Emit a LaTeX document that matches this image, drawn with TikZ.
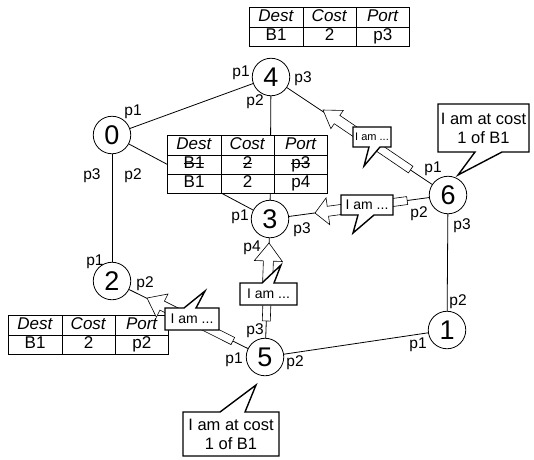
\documentclass[tikz,border=0pt]{standalone}
\usepackage{fontspec}
\setmainfont{Liberation Sans}
\usepackage{array}
\newsavebox\strkbox
\newcommand\strk[1]{\leavevmode\sbox\strkbox{#1}\rlap{\rule[0.3em]{\wd\strkbox}{0.6pt}}\usebox\strkbox}
\newcolumntype{C}{>{\centering\arraybackslash}p{41pt}}
\newcommand\hdrstrut{\rule[-5pt]{0pt}{19pt}}
\newcommand\rowstrut{\rule[-4.5pt]{0pt}{17.5pt}}
\newcommand\msgarrow[6]{%
  \begin{scope}[shift={#1}, rotate=#2]
    \draw[msgbody] (0,0) -- (#5,#6) -- (#5,5) -- (#3,5) -- (#3,4) -- (#4,4) -- (#4,-4) -- (#3,-4) -- (#3,-5) -- (#5,-5) -- (#5,-#6) -- cycle;
  \end{scope}}
\begin{document}
\begin{tikzpicture}[x=1pt,y=-1pt,
  nd/.style={circle, draw, line width=0.8pt, fill=white, minimum size=37.5pt, inner sep=0pt, font=\fontsize{27}{27}\selectfont},
  lnk/.style={line width=0.8pt},
  plab/.style={font=\fontsize{15.5}{15.5}\selectfont, inner sep=0pt},
  tbl/.style={fill=white, inner sep=0pt, anchor=north west, font=\fontsize{17}{18}\selectfont},
  msgbody/.style={draw, fill=white, line width=0.6pt, line join=miter},
  callbox/.style={draw, fill=white, line width=1.4pt, line join=miter},
  smalltxt/.style={font=\fontsize{14}{14}\selectfont, inner sep=0pt},
  bigtxt/.style={font=\fontsize{16.5}{19}\selectfont, align=center, inner sep=0pt}]
\useasboundingbox (0,0) rectangle (534,459);

% nodes
\node[nd] (n4) at (271,77) {4};
\node[nd] (n0) at (112,135) {0};
\node[nd] (n3) at (270,219) {3};
\node[nd] (n6) at (448,195) {6};
\node[nd] (n2) at (112,281) {2};
\node[nd] (n1) at (447,330) {1};
\node[nd] (n5) at (265,357) {5};

% links
\draw[lnk] (n0) -- (n4);
\draw[lnk] (n0) -- (n3);
\draw[lnk] (n4) -- (n3);
\draw[lnk] (n4) -- (n6);
\draw[lnk] (n6) -- (n3);
\draw[lnk] (n6) -- (n1);
\draw[lnk] (n1) -- (n5);
\draw[lnk] (n0) -- (n2);
\draw[lnk] (n2) -- (n5);
\draw[lnk] (n5) -- (n3);

% port labels
\node[plab] (l0a) at (133,112) {p1};
\node[plab] (l0b) at (92,176) {p3};
\node[plab] (l0c) at (133,176) {p2};
\node[plab] (l4a) at (241,73) {p1};
\node[plab] (l4b) at (303,79) {p3};
\node[plab] (l4c) at (255,102) {p2};
\node[plab] (l2a) at (95,262) {p1};
\node[plab] (l2b) at (145,284) {p2};
\node[plab] (l3a) at (240,217) {p1};
\node[plab] (l3b) at (302,230) {p3};
\node[plab] (l3c) at (252,248) {p4};
\node[plab] (l5a) at (255,331) {p3};
\node[plab] (l5b) at (234,360) {p1};
\node[plab] (l5c) at (295,363) {p2};
\node[plab] (l1a) at (458,302) {p2};
\node[plab] (l1b) at (418,345) {p1};
\node[plab] (l6a) at (433,169) {p1};
\node[plab] (l6b) at (419,214) {p2};
\node[plab] (l6c) at (462,226) {p3};

% tables
\node[tbl] (t4) at (249,7) {\begin{tabular}{|C|C|C|}\hline
\hdrstrut\textit{Dest}&\textit{Cost}&\textit{Port}\\\hline
\rowstrut B1&2&p3\\\hline\end{tabular}};
\draw[line width=1.2pt] (t4.south west) -- (t4.south east);

\node[tbl] (t3) at (167,135) {\begin{tabular}{|C|C|C|}\hline
\hdrstrut\textit{Dest}&\textit{Cost}&\textit{Port}\\\hline
\rowstrut \strk{B1}&\strk{2}&\strk{p3}\\\hline
\rowstrut B1&2&p4\\\hline\end{tabular}};
\draw[line width=1.2pt] (t3.south west) -- (t3.south east);

\node[tbl] (t2) at (8,315) {\begin{tabular}{|C|C|C|}\hline
\hdrstrut\textit{Dest}&\textit{Cost}&\textit{Port}\\\hline
\rowstrut B1&2&p2\\\hline\end{tabular}};
\draw[line width=1.2pt] (t2.south west) -- (t2.south east);

% message arrows
\msgarrow{(323,110)}{-34.2}{56}{106}{17}{11}
\msgarrow{(315,213)}{7.7}{52}{93}{13}{13.5}
\msgarrow{(269,243)}{-92}{51}{78}{18}{14}
\msgarrow{(147,298)}{-26.6}{50}{96}{17}{13}

% small callouts
\draw[callbox] (353,127) -- (391,127) -- (391,147) -- (380,147) -- (364,166) -- (369,147) -- (353,147) -- cycle;
\node[inner sep=0pt, font=\fontsize{11}{11}\selectfont] (cA) at (372,137) {I am ...};
\draw[callbox] (341,195) -- (393,195) -- (393,215) -- (374,215) -- (353,233) -- (358,215) -- (341,215) -- cycle;
\node[smalltxt] (cB) at (367,205) {I am ...};
\draw[callbox] (240,283) -- (262,283) -- (281,265) -- (274,283) -- (297,283) -- (297,305) -- (240,305) -- cycle;
\node[smalltxt] (cC) at (268.5,294) {I am ...};
\draw[callbox] (165,308) -- (184,308) -- (205,291) -- (196,308) -- (219,308) -- (219,330) -- (165,330) -- cycle;
\node[smalltxt] (cD) at (192,319) {I am ...};

% big callouts
\draw[callbox] (438,104) -- (529,104) -- (529,152) -- (502,152) -- (458,175) -- (475,152) -- (438,152) -- cycle;
\node[bigtxt] (cE) at (483.5,128) {I am at cost\\1 of B1};
\draw[callbox] (183,412) -- (220,412) -- (256,385) -- (245,412) -- (279,412) -- (279,456) -- (183,456) -- cycle;
\node[bigtxt] (cF) at (231,434) {I am at cost\\1 of B1};
\end{tikzpicture}
\end{document}
